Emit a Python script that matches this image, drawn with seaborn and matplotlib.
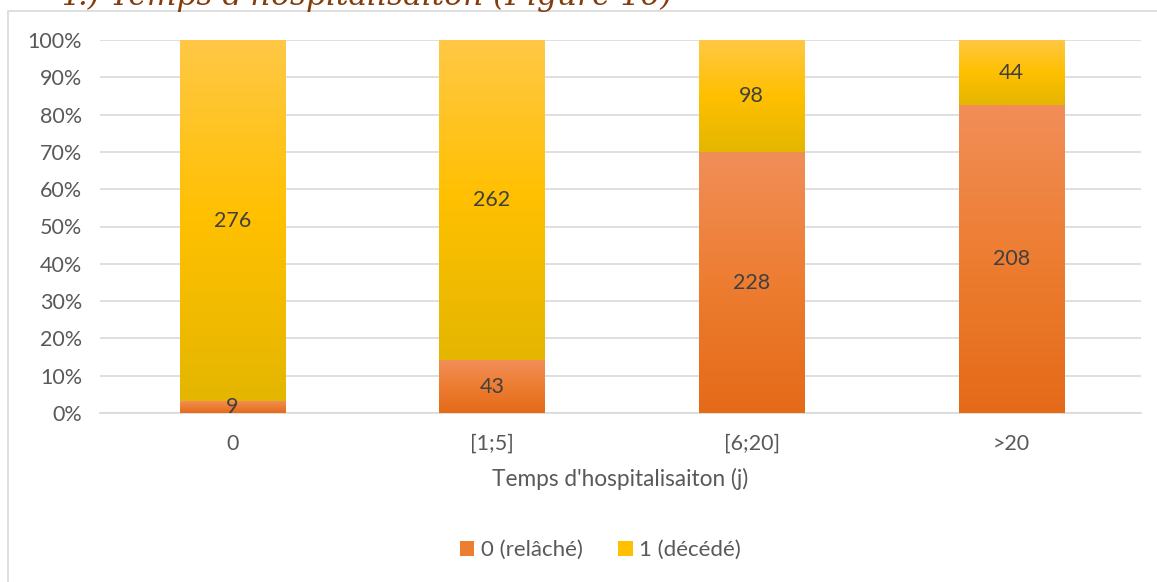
import matplotlib
matplotlib.use("Agg")
import matplotlib.pyplot as plt
import seaborn as sns
import numpy as np
import pandas as pd
from matplotlib.patches import Rectangle, Patch
from matplotlib.colors import LinearSegmentedColormap

# Données
categories = ["0", "[1;5]", "[6;20]", ">20"]
relache = [9, 43, 228, 208]
decede = [276, 262, 98, 44]

legend_labels = ["0 (relâché)", "1 (décédé)"]
x_label = "Temps d'hospitalisaiton (j)"
heading = "4.) Temps d'hospitalisaiton (Figure 16)"

sns.set_theme(style="white")
plt.rcParams["font.family"] = ["Lato", "DejaVu Sans"]

totals = [r + d for r, d in zip(relache, decede)]
df = pd.DataFrame({
    "Temps": categories,
    "relache_pct": [r / t for r, t in zip(relache, totals)],
    "total_pct": [1.0] * len(categories),
})

ORANGE = "#ED7D31"
YELLOW = "#FFC000"
TXT = "#404040"
LBL = "#595959"
GRID = "#D9D9D9"
FS = 15.5

# dégradés façon Excel (clair en haut, plus foncé en bas)
cmap_y = LinearSegmentedColormap.from_list("jaune", ["#E4B600", "#FFC000", "#FFC846"])
cmap_o = LinearSegmentedColormap.from_list("orange", ["#E46A18", "#ED7D31", "#F18E58"])

fig = plt.figure(figsize=(11.57, 5.82), dpi=100)
ax = fig.add_axes([100 / 1157, 169 / 582, 1041 / 1157, 373 / 582])

# barres empilées : total (jaune) puis relâché (orange) par-dessus
sns.barplot(data=df, x="Temps", y="total_pct", color=YELLOW, width=0.405,
            saturation=1, linewidth=0, ax=ax, zorder=3)
n = len(categories)
sns.barplot(data=df, x="Temps", y="relache_pct", color=ORANGE, width=0.405,
            saturation=1, linewidth=0, ax=ax, zorder=4)

grad = np.linspace(0, 1, 256).reshape(-1, 1)
for k, p in enumerate(ax.patches):
    x0, w = p.get_x(), p.get_width()
    if k < n:
        lo = df["relache_pct"].iloc[k]
        cm, zo = cmap_y, 3.5
    else:
        lo = 0.0
        cm, zo = cmap_o, 4.5
    hi = p.get_y() + p.get_height()
    im = ax.imshow(grad, extent=(x0, x0 + w, lo, hi), origin="lower",
                   cmap=cm, aspect="auto", zorder=zo, interpolation="bilinear")
    im.set_clip_path(p)

ax.set_xlim(-0.51, 3.5)
ax.set_ylim(0, 1)
ax.set_yticks([i / 10 for i in range(11)])
ax.set_yticklabels([f"{i * 10}%" for i in range(11)])
ax.grid(axis="y", color=GRID, lw=1.2, zorder=0)
ax.set_axisbelow(True)
for s in ["top", "right", "left"]:
    ax.spines[s].set_visible(False)
ax.spines["bottom"].set_color(GRID)
ax.spines["bottom"].set_linewidth(1.2)
ax.tick_params(axis="y", length=0, pad=13, labelsize=FS, labelcolor=LBL)
ax.tick_params(axis="x", length=0, pad=15, labelsize=FS, labelcolor=LBL)
ax.set_ylabel("")
ax.set_xlabel(x_label, fontsize=16.3, color=LBL, labelpad=10)

# étiquettes de valeurs
for i, (r, d, t) in enumerate(zip(relache, decede, totals)):
    pr = r / t
    ax.text(i, pr / 2, str(r), ha="center", va="center", fontsize=FS,
            color=TXT, zorder=6)
    ax.text(i, pr + (1 - pr) / 2, str(d), ha="center", va="center",
            fontsize=FS, color=TXT, zorder=6)

handles = [Patch(facecolor=ORANGE, edgecolor="none"),
           Patch(facecolor=YELLOW, edgecolor="none")]
fig.legend(handles, legend_labels, loc="center", bbox_to_anchor=(0.519, 0.055),
           ncol=2, frameon=False, fontsize=16, handlelength=0.65,
           handleheight=0.65, handletextpad=0.3, columnspacing=1.6,
           labelcolor=LBL)

# cadre du graphique
fig.patches.append(Rectangle((8 / 1157, -0.01), 1.2, (582 - 11) / 582 + 0.01,
                             transform=fig.transFigure, fill=False,
                             edgecolor=GRID, lw=1.2))

# titre de section coupé en haut (comme dans la capture)
fig.text(58 / 1157, 1 - 5 / 582, heading, fontsize=22.5, style="italic",
         family=["DejaVu Serif"], color="#843C0C",
         ha="left", va="baseline")

fig.savefig("out.png", dpi=100)
